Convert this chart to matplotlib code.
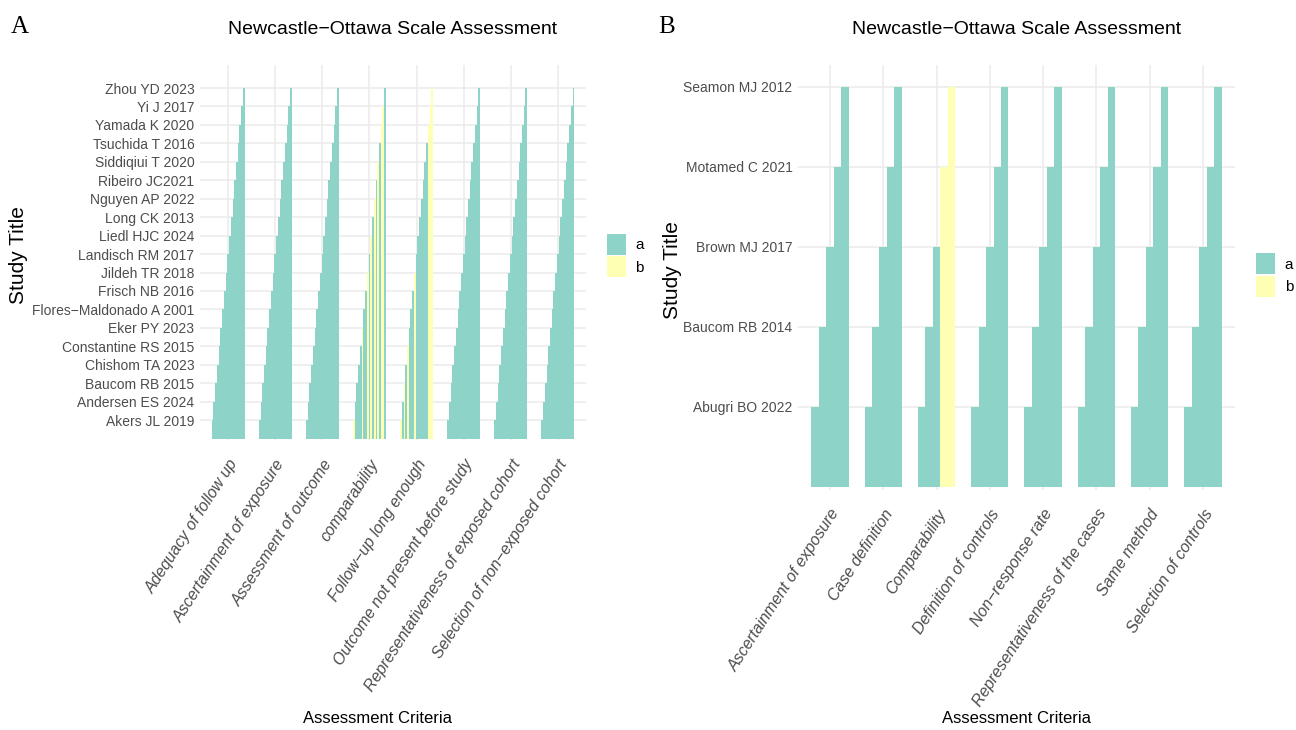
import numpy as np
import matplotlib.pyplot as plt
from matplotlib.patches import Patch

plt.rcParams['font.family'] = ['Liberation Sans', 'DejaVu Sans']

TEAL = '#8DD3C7'
YELLOW = '#FFFFB3'
colors = {'a': TEAL, 'b': YELLOW}

# Panel A: cohort studies (bottom to top)
studies_a = ["Akers JL 2019", "Andersen ES 2024", "Baucom RB 2015", "Chishom TA 2023",
             "Constantine RS 2015", "Eker PY 2023", "Flores−Maldonado A 2001", "Frisch NB 2016",
             "Jildeh TR 2018", "Landisch RM 2017", "Liedl HJC 2024", "Long CK 2013",
             "Nguyen AP 2022", "Ribeiro JC2021", "Siddiqiui T 2020", "Tsuchida T 2016",
             "Yamada K 2020", "Yi J 2017", "Zhou YD 2023"]
criteria_a = ["Adequacy of follow up", "Ascertainment of exposure", "Assessment of outcome",
              "comparability", "Follow−up long enough", "Outcome not present before study",
              "Representativeness of exposed cohort", "Selection of non−exposed cohort"]
all_a = ['a'] * 19
comparability_a = ['b', 'a', 'a', 'a', 'a', 'b', 'a', 'a', 'b', 'a',
                   'b', 'a', 'b', 'a', 'b', 'a', 'b', 'b', 'a']
followup_a = ['b', 'a', 'b', 'a', 'b', 'a', 'a', 'a', 'b', 'a',
              'a', 'a', 'a', 'a', 'a', 'a', 'b', 'b', 'b']
ratings_a = [all_a, all_a, all_a, comparability_a, followup_a, all_a, all_a, all_a]

# Panel B: case-control studies
studies_b = ["Abugri BO 2022", "Baucom RB 2014", "Brown MJ 2017", "Motamed C 2021", "Seamon MJ 2012"]
criteria_b = ["Ascertainment of exposure", "Case definition", "Comparability",
              "Definition of controls", "Non−response rate", "Representativeness of the cases",
              "Same method", "Selection of controls"]
all_b = ['a'] * 5
comparability_b = ['a', 'a', 'a', 'b', 'b']
ratings_b = [all_b, all_b, comparability_b, all_b, all_b, all_b, all_b, all_b]


def draw_panel(ax, studies, criteria, ratings, ylim):
    n = len(studies)
    width = 0.7
    bw = width / n
    for j, crit in enumerate(criteria):
        for i in range(n):
            x = j + 1 - width / 2 + bw * (i + 0.5)
            ax.bar(x, i + 1, width=bw, color=colors[ratings[j][i]], linewidth=0, zorder=2)
    ax.set_xlim(0.4, len(criteria) + 0.6)
    ax.set_ylim(*ylim)
    ax.set_xticks(np.arange(1, len(criteria) + 1))
    ax.set_xticklabels(criteria, rotation=57, ha='right', va='top', rotation_mode='anchor',
                       style='italic', fontsize=11.5, color='#4D4D4D')
    ax.set_yticks(np.arange(1, n + 1))
    ax.set_yticklabels(studies, fontsize=10, color='#4D4D4D')
    ax.tick_params(axis='y', length=0, pad=4)
    ax.tick_params(axis='x', length=0, pad=12)
    for s in ax.spines.values():
        s.set_visible(False)
    ax.grid(True, color='#EBEBEB', linewidth=1.1, zorder=0)
    ax.set_axisbelow(True)
    ax.set_xlabel("Assessment Criteria", fontsize=12, va='top')
    ax.set_ylabel("Study Title", fontsize=15, va='center')
    ax.set_title("Newcastle−Ottawa Scale Assessment", fontsize=14, pad=22)


fig = plt.figure(figsize=(12.96, 7.3), dpi=100)
ax_a = fig.add_axes([0.1543, 0.397, 0.2979, 0.514])
ax_b = fig.add_axes([0.6157, 0.329, 0.3372, 0.582])

draw_panel(ax_a, studies_a, criteria_a, ratings_a, (-0.09, 20.25))
draw_panel(ax_b, studies_b, criteria_b, ratings_b, (-0.04, 5.275))

ax_a.xaxis.set_label_coords(0.461, -0.723)
ax_b.xaxis.set_label_coords(0.499, -0.52)
ax_a.yaxis.set_label_coords(-0.469, 0.493)
ax_b.yaxis.set_label_coords(-0.288, 0.518)

handles = [Patch(facecolor=TEAL, label='a'), Patch(facecolor=YELLOW, label='b')]
for ax, pos in [(ax_a, (0.4625, 0.65)), (ax_b, (0.9635, 0.623))]:
    fig.legend(handles=handles, loc='center left', bbox_to_anchor=pos, frameon=False,
               fontsize=11, handlelength=1.25, handleheight=1.75, labelspacing=0.1,
               handletextpad=0.6, borderpad=0)

fig.text(0.008, 0.963, "A", fontsize=18, family=['Liberation Serif', 'DejaVu Serif'], va='center')
fig.text(0.508, 0.963, "B", fontsize=18, family=['Liberation Serif', 'DejaVu Serif'], va='center')

fig.savefig("out.png", dpi=100)
